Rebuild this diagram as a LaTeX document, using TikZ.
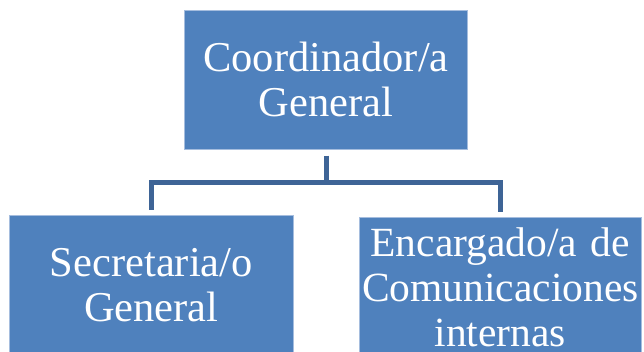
\documentclass[tikz,border=0pt]{standalone}
\usepackage{fontspec}
\setmainfont{Liberation Serif}
\usetikzlibrary{positioning}
\definecolor{boxblue}{RGB}{79,129,189}
\definecolor{boxedge}{RGB}{165,189,222}
\definecolor{linkblue}{RGB}{62,100,150}
\tikzset{rolebox/.style={draw=boxedge, line width=0.8pt, fill=boxblue, text=white, inner xsep=0pt, inner ysep=0pt, text width=#1, minimum height=139pt, align=center, font=\fontsize{42.5}{45}\selectfont}}
\tikzset{rolebox/.default=283pt}
\tikzset{link/.style={draw=linkblue, line width=5pt}}

\begin{document}
\begin{tikzpicture}[x=1pt, y=1pt]
            \useasboundingbox (0, 0) rectangle (644, -351);
            \node[rolebox] (coord) at (326, -79.7) {Coordinador/a\\General};
            \node[rolebox=284pt] (secre) at (151.3, -285) {Secretaria/o\\General};
            \node[rolebox=282.5pt, font=\fontsize{41.5}{45}\selectfont] (encarg) at (500.3, -287) {Encargado/a de\\Comunicaciones\\internas};
            \coordinate (hub) at ([yshift=-33]coord.south);
            \draw[link] ([yshift=-6]coord.south) -- (hub);
            \draw[link] (hub) -| ([yshift=5]secre.north);
            \draw[link] (hub) -| ([yshift=5]encarg.north);
        \end{tikzpicture}
\end{document}
